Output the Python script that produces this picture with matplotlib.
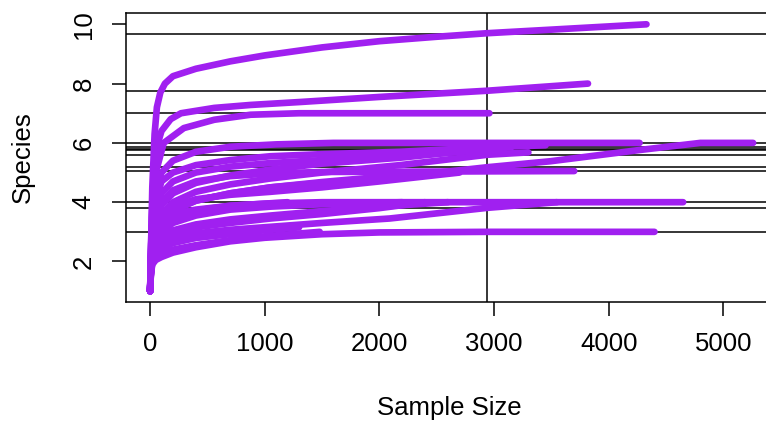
import matplotlib
matplotlib.use("Agg")
import matplotlib.pyplot as plt

# ---- data (sample size -> expected species) ----
curve_A1_x = [1, 20, 40, 60, 90, 130, 200, 400, 700, 1000, 1500, 2000, 2500, 2943, 3500, 4330]
curve_A1_y = [1, 4.5, 6.3, 7.2, 7.7, 8.0, 8.25, 8.5, 8.75, 8.95, 9.22, 9.43, 9.58, 9.7, 9.82, 10.0]
curve_A2_x = [1, 15, 40, 70, 100, 180, 270, 560, 877, 1313, 2000, 2943, 3820]
curve_A2_y = [1, 3.5, 5.2, 6.0, 6.4, 6.8, 7.0, 7.18, 7.28, 7.38, 7.55, 7.76, 8.0]
curve_A3_x = [1, 20, 50, 120, 295, 560, 877, 1300, 2960]
curve_A3_y = [1, 3.5, 5.0, 6.0, 6.5, 6.78, 6.95, 7.0, 7.0]
curve_B1_x = [1, 10, 25, 50, 100, 200, 400, 700, 1100, 1600, 4270]
curve_B1_y = [1, 2.5, 3.6, 4.4, 5.0, 5.4, 5.7, 5.87, 5.95, 6.0, 6.0]
curve_B2_x = [1, 10, 30, 100, 200, 400, 700, 1050, 1500, 2090, 2943, 3490, 4270, 4800, 5260]
curve_B2_y = [1, 2.0, 2.8, 3.4, 3.75, 4.05, 4.3, 4.5, 4.65, 4.82, 5.18, 5.38, 5.76, 6.0, 6.0]
curve_B3_x = [1, 10, 30, 100, 200, 400, 700, 1050, 1500, 2943, 3700]
curve_B3_y = [1, 2.3, 3.2, 4.0, 4.4, 4.7, 4.88, 4.97, 5.02, 5.04, 5.05]
curve_B4_x = [1, 10, 30, 100, 200, 400, 700, 1050, 1500, 2180, 2943, 3450]
curve_B4_y = [1, 2.6, 3.8, 4.7, 5.0, 5.25, 5.42, 5.55, 5.62, 5.7, 5.85, 5.92]
curve_B5_x = [1, 10, 30, 100, 200, 400, 700, 1050, 1500, 2180, 2943, 3150]
curve_B5_y = [1, 2.2, 3.1, 3.9, 4.3, 4.65, 4.9, 5.1, 5.3, 5.5, 5.8, 5.85]
curve_B6_x = [1, 10, 30, 100, 200, 400, 700, 1050, 1500, 2180, 2943, 3050]
curve_B6_y = [1, 2.4, 3.4, 4.3, 4.7, 5.0, 5.2, 5.32, 5.42, 5.55, 5.76, 5.78]
curve_B7_x = [1, 10, 30, 100, 200, 400, 700, 1050, 1500, 2180, 2943, 3300]
curve_B7_y = [1, 2.1, 2.9, 3.6, 4.0, 4.35, 4.6, 4.8, 5.0, 5.25, 5.6, 5.68]
curve_C1_x = [1, 10, 30, 100, 200, 400, 700, 1050, 1500, 4650]
curve_C1_y = [1, 2.0, 2.6, 3.2, 3.5, 3.72, 3.88, 3.96, 4.0, 4.0]
curve_C2_x = [1, 10, 30, 100, 200, 400, 700, 1050, 1500, 2090, 2943, 3550]
curve_C2_y = [1, 1.8, 2.2, 2.6, 2.8, 2.95, 3.07, 3.17, 3.3, 3.45, 3.81, 4.0]
curve_C3_x = [1, 5, 20, 50, 100, 200, 400, 700, 1000, 1500, 2000, 2943, 4400]
curve_C3_y = [1, 1.5, 1.9, 2.05, 2.15, 2.3, 2.48, 2.68, 2.8, 2.92, 2.98, 3.0, 3.0]
curve_D1_x = [1, 10, 30, 100, 200, 400, 700, 1050, 1500, 2000, 2500]
curve_D1_y = [1, 2.0, 2.7, 3.3, 3.7, 4.05, 4.3, 4.5, 4.68, 4.85, 5.0]
curve_D2_x = [1, 10, 30, 100, 200, 400, 700, 1050, 1500, 2200]
curve_D2_y = [1, 1.9, 2.5, 3.0, 3.3, 3.55, 3.75, 3.85, 3.93, 4.0]
curve_D3_x = [1, 10, 30, 100, 200, 400, 700, 1050, 1500, 2000, 2400]
curve_D3_y = [1, 1.8, 2.3, 2.7, 2.95, 3.15, 3.3, 3.45, 3.6, 3.8, 4.0]
curve_D4_x = [1, 8, 25, 100, 200, 400, 700, 1000, 1480]
curve_D4_y = [1, 1.7, 2.0, 2.25, 2.4, 2.55, 2.72, 2.85, 3.0]
curve_D5_x = [1, 10, 30, 100, 200, 400, 700, 1200]
curve_D5_y = [1, 2.2, 2.9, 3.4, 3.6, 3.75, 3.88, 4.0]
curve_D6_x = [1, 10, 30, 100, 200, 400, 700, 900]
curve_D6_y = [1, 1.8, 2.2, 2.5, 2.65, 2.8, 2.92, 3.0]
curve_D7_x = [1, 10, 30, 100, 200, 400, 700, 1050, 1500, 2000, 2600]
curve_D7_y = [1, 1.9, 2.4, 2.8, 3.05, 3.25, 3.42, 3.55, 3.7, 3.85, 4.0]
curve_D8_x = [1, 10, 30, 100, 200, 400, 700, 1050, 1500, 2000, 2700]
curve_D8_y = [1, 2.1, 2.8, 3.5, 3.85, 4.1, 4.25, 4.35, 4.5, 4.7, 5.0]
curve_D9_x = [1, 8, 25, 100, 200, 400, 700, 1000, 1300]
curve_D9_y = [1, 1.8, 2.15, 2.45, 2.62, 2.8, 2.95, 3.05, 3.15]

curves = [
    (curve_A1_x, curve_A1_y), (curve_A2_x, curve_A2_y), (curve_A3_x, curve_A3_y),
    (curve_B1_x, curve_B1_y), (curve_B2_x, curve_B2_y), (curve_B3_x, curve_B3_y),
    (curve_B4_x, curve_B4_y), (curve_B5_x, curve_B5_y), (curve_B6_x, curve_B6_y),
    (curve_B7_x, curve_B7_y), (curve_C1_x, curve_C1_y), (curve_C2_x, curve_C2_y),
    (curve_C3_x, curve_C3_y), (curve_D1_x, curve_D1_y), (curve_D2_x, curve_D2_y),
    (curve_D3_x, curve_D3_y), (curve_D4_x, curve_D4_y), (curve_D5_x, curve_D5_y),
    (curve_D6_x, curve_D6_y), (curve_D7_x, curve_D7_y), (curve_D8_x, curve_D8_y),
    (curve_D9_x, curve_D9_y),
]

sample_size = 2943
rarefied_species = [9.67, 7.75, 7.0, 6.0, 5.85, 5.8, 5.76, 5.6, 5.2, 5.04, 4.02, 3.81, 3.0]

x_ticks = [0, 1000, 2000, 3000, 4000, 5000]
y_ticks = [2, 4, 6, 8, 10]

# ---- drawing ----
plt.rcParams['font.family'] = ['Liberation Sans', 'DejaVu Sans']
W, H = 766, 421
fig = plt.figure(figsize=(W / 100, H / 100), dpi=100)
left_px, right_px, top_px, bottom_px = 125.7, 782.0, 13.3, 301.7
ax = fig.add_axes([left_px / W, 1 - bottom_px / H,
                   (right_px - left_px) / W, (bottom_px - top_px) / H])

for h in rarefied_species:
    ax.axhline(h, color='black', lw=1.1, zorder=1)
ax.axvline(sample_size, color='black', lw=1.1, zorder=1)

purple = '#A020F0'
for cx, cy in curves:
    ax.plot(cx, cy, color=purple, lw=4.8, solid_capstyle='round',
            solid_joinstyle='round', zorder=2)

ax.set_xlim(-212, 5512)
ax.set_ylim(0.644, 10.371)
ax.set_xticks(x_ticks)
ax.set_yticks(y_ticks)
ax.set_xticklabels([str(t) for t in x_ticks])
ax.set_yticklabels([str(t) for t in y_ticks], rotation=90, va='center')

for s in ax.spines.values():
    s.set_linewidth(1.1)
ax.tick_params(axis='both', direction='out', length=10, width=1.1,
               labelsize=18.5, colors='black')
ax.tick_params(axis='x', pad=11.5)
ax.tick_params(axis='y', pad=11.5)

fig.text(449 / W, 1 - 408 / H, 'Sample Size', ha='center', va='center', fontsize=18.5)
fig.text(23 / W, 1 - 157 / H, 'Species', ha='center', va='center',
         rotation=90, fontsize=18.5)

fig.savefig('out.png', dpi=100)
